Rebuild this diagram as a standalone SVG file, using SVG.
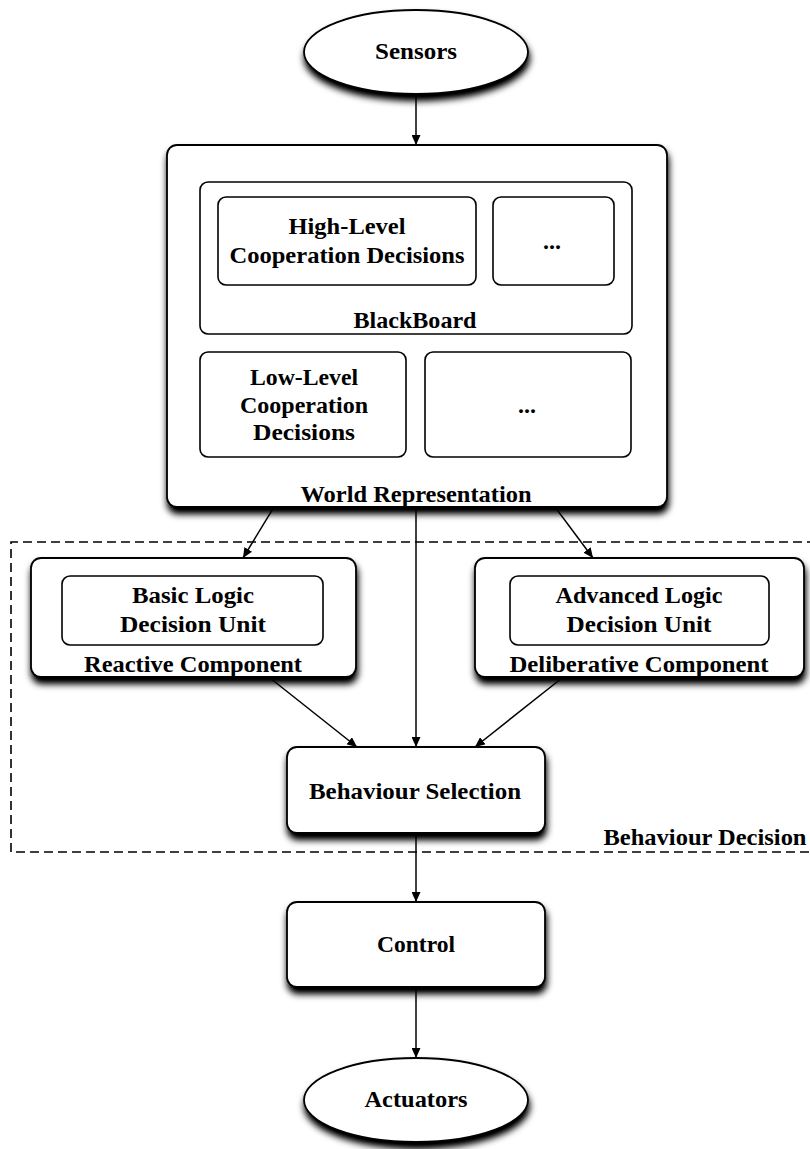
<svg xmlns="http://www.w3.org/2000/svg" width="810" height="1149" viewBox="0 0 810 1149">
<style>
.box{fill:#fff;stroke:#000;stroke-width:1.8}
.in{fill:#fff;stroke:#000;stroke-width:1.6}
.t{font-family:"Liberation Serif","Times New Roman",serif;font-size:24px;fill:#000;text-anchor:middle;font-weight:bold}
.c{fill:none;stroke:#000;stroke-width:1.5}
.dash{fill:none;stroke:#000;stroke-width:1.6;stroke-dasharray:9,5}
</style>
<defs>
<filter id="sh" x="-10%" y="-10%" width="125%" height="140%">
<feGaussianBlur in="SourceAlpha" stdDeviation="3.5"/>
<feOffset dx="1" dy="6" result="b"/>
<feComponentTransfer><feFuncA type="linear" slope="1.1"/></feComponentTransfer>
<feMerge><feMergeNode/><feMergeNode in="SourceGraphic"/></feMerge>
</filter>
<marker id="ah" markerUnits="userSpaceOnUse" markerWidth="10" markerHeight="9" refX="10" refY="4.5" orient="auto">
<path d="M0,0 L10,4.5 L0,9 z" fill="#000"/>
</marker>
</defs>
<rect width="810" height="1149" fill="#fff"/>

<g id="behaviour-decision">
<path class="dash" d="M830 542 H11 V852 H830"/>
<text class="t" x="705" y="845" textLength="203" lengthAdjust="spacingAndGlyphs">Behaviour Decision</text>
</g>

<g id="connectors">
<line class="c" x1="416" y1="95" x2="416" y2="145" marker-end="url(#ah)"/>
<line class="c" x1="274" y1="507" x2="243" y2="558" marker-end="url(#ah)"/>
<line class="c" x1="555" y1="507" x2="593" y2="558" marker-end="url(#ah)"/>
<line class="c" x1="416" y1="507" x2="416" y2="747" marker-end="url(#ah)"/>
<line class="c" x1="270" y1="678" x2="357" y2="747" marker-end="url(#ah)"/>
<line class="c" x1="562" y1="678" x2="475" y2="747" marker-end="url(#ah)"/>
<line class="c" x1="416" y1="833" x2="416" y2="902" marker-end="url(#ah)"/>
<line class="c" x1="416" y1="987" x2="416" y2="1058" marker-end="url(#ah)"/>
</g>

<g id="sensors">
<ellipse class="box" cx="416" cy="52" rx="112" ry="42" filter="url(#sh)"/>
<text class="t" x="416" y="59" textLength="82" lengthAdjust="spacingAndGlyphs">Sensors</text>
</g>

<g id="world-representation">
<rect class="box" x="167" y="145" width="500" height="362" rx="10" filter="url(#sh)"/>
<text class="t" x="416" y="502" textLength="231" lengthAdjust="spacingAndGlyphs">World Representation</text>
</g>

<g id="blackboard">
<rect class="in" x="200" y="182" width="432" height="152" rx="8"/>
<text class="t" x="415" y="328" textLength="123" lengthAdjust="spacingAndGlyphs">BlackBoard</text>
</g>

<g id="high-level">
<rect class="in" x="218" y="197" width="258" height="88" rx="8"/>
<text class="t" x="347" y="234" textLength="117" lengthAdjust="spacingAndGlyphs">High-Level</text>
<text class="t" x="347" y="263" textLength="235" lengthAdjust="spacingAndGlyphs">Cooperation Decisions</text>
</g>

<g id="blackboard-more">
<rect class="in" x="493" y="197" width="121" height="88" rx="8"/>
<text class="t" x="552" y="249">...</text>
</g>

<g id="low-level">
<rect class="in" x="200" y="352" width="206" height="105" rx="8"/>
<text class="t" x="304" y="385" textLength="108" lengthAdjust="spacingAndGlyphs">Low-Level</text>
<text class="t" x="304" y="413" textLength="128" lengthAdjust="spacingAndGlyphs">Cooperation</text>
<text class="t" x="304" y="440" textLength="102" lengthAdjust="spacingAndGlyphs">Decisions</text>
</g>

<g id="world-more">
<rect class="in" x="425" y="352" width="206" height="105" rx="8"/>
<text class="t" x="527" y="413">...</text>
</g>

<g id="reactive-component">
<rect class="box" x="31" y="558" width="325" height="119" rx="10" filter="url(#sh)"/>
<text class="t" x="193" y="672" textLength="218" lengthAdjust="spacingAndGlyphs">Reactive Component</text>
</g>

<g id="basic-logic">
<rect class="in" x="62" y="576" width="261" height="69" rx="8"/>
<text class="t" x="193" y="603" textLength="122" lengthAdjust="spacingAndGlyphs">Basic Logic</text>
<text class="t" x="193" y="632" textLength="146" lengthAdjust="spacingAndGlyphs">Decision Unit</text>
</g>

<g id="deliberative-component">
<rect class="box" x="475" y="558" width="329" height="119" rx="10" filter="url(#sh)"/>
<text class="t" x="639" y="672" textLength="259" lengthAdjust="spacingAndGlyphs">Deliberative Component</text>
</g>

<g id="advanced-logic">
<rect class="in" x="510" y="576" width="259" height="69" rx="8"/>
<text class="t" x="639" y="603" textLength="167" lengthAdjust="spacingAndGlyphs">Advanced Logic</text>
<text class="t" x="639" y="632" textLength="145" lengthAdjust="spacingAndGlyphs">Decision Unit</text>
</g>

<g id="behaviour-selection">
<rect class="box" x="287" y="747" width="258" height="86" rx="10" filter="url(#sh)"/>
<text class="t" x="415" y="799" textLength="212" lengthAdjust="spacingAndGlyphs">Behaviour Selection</text>
</g>

<g id="control">
<rect class="box" x="287" y="902" width="258" height="85" rx="10" filter="url(#sh)"/>
<text class="t" x="416" y="952" textLength="78" lengthAdjust="spacingAndGlyphs">Control</text>
</g>

<g id="actuators">
<ellipse class="box" cx="416" cy="1100" rx="112" ry="42" filter="url(#sh)"/>
<text class="t" x="416" y="1107" textLength="103" lengthAdjust="spacingAndGlyphs">Actuators</text>
</g>
</svg>
